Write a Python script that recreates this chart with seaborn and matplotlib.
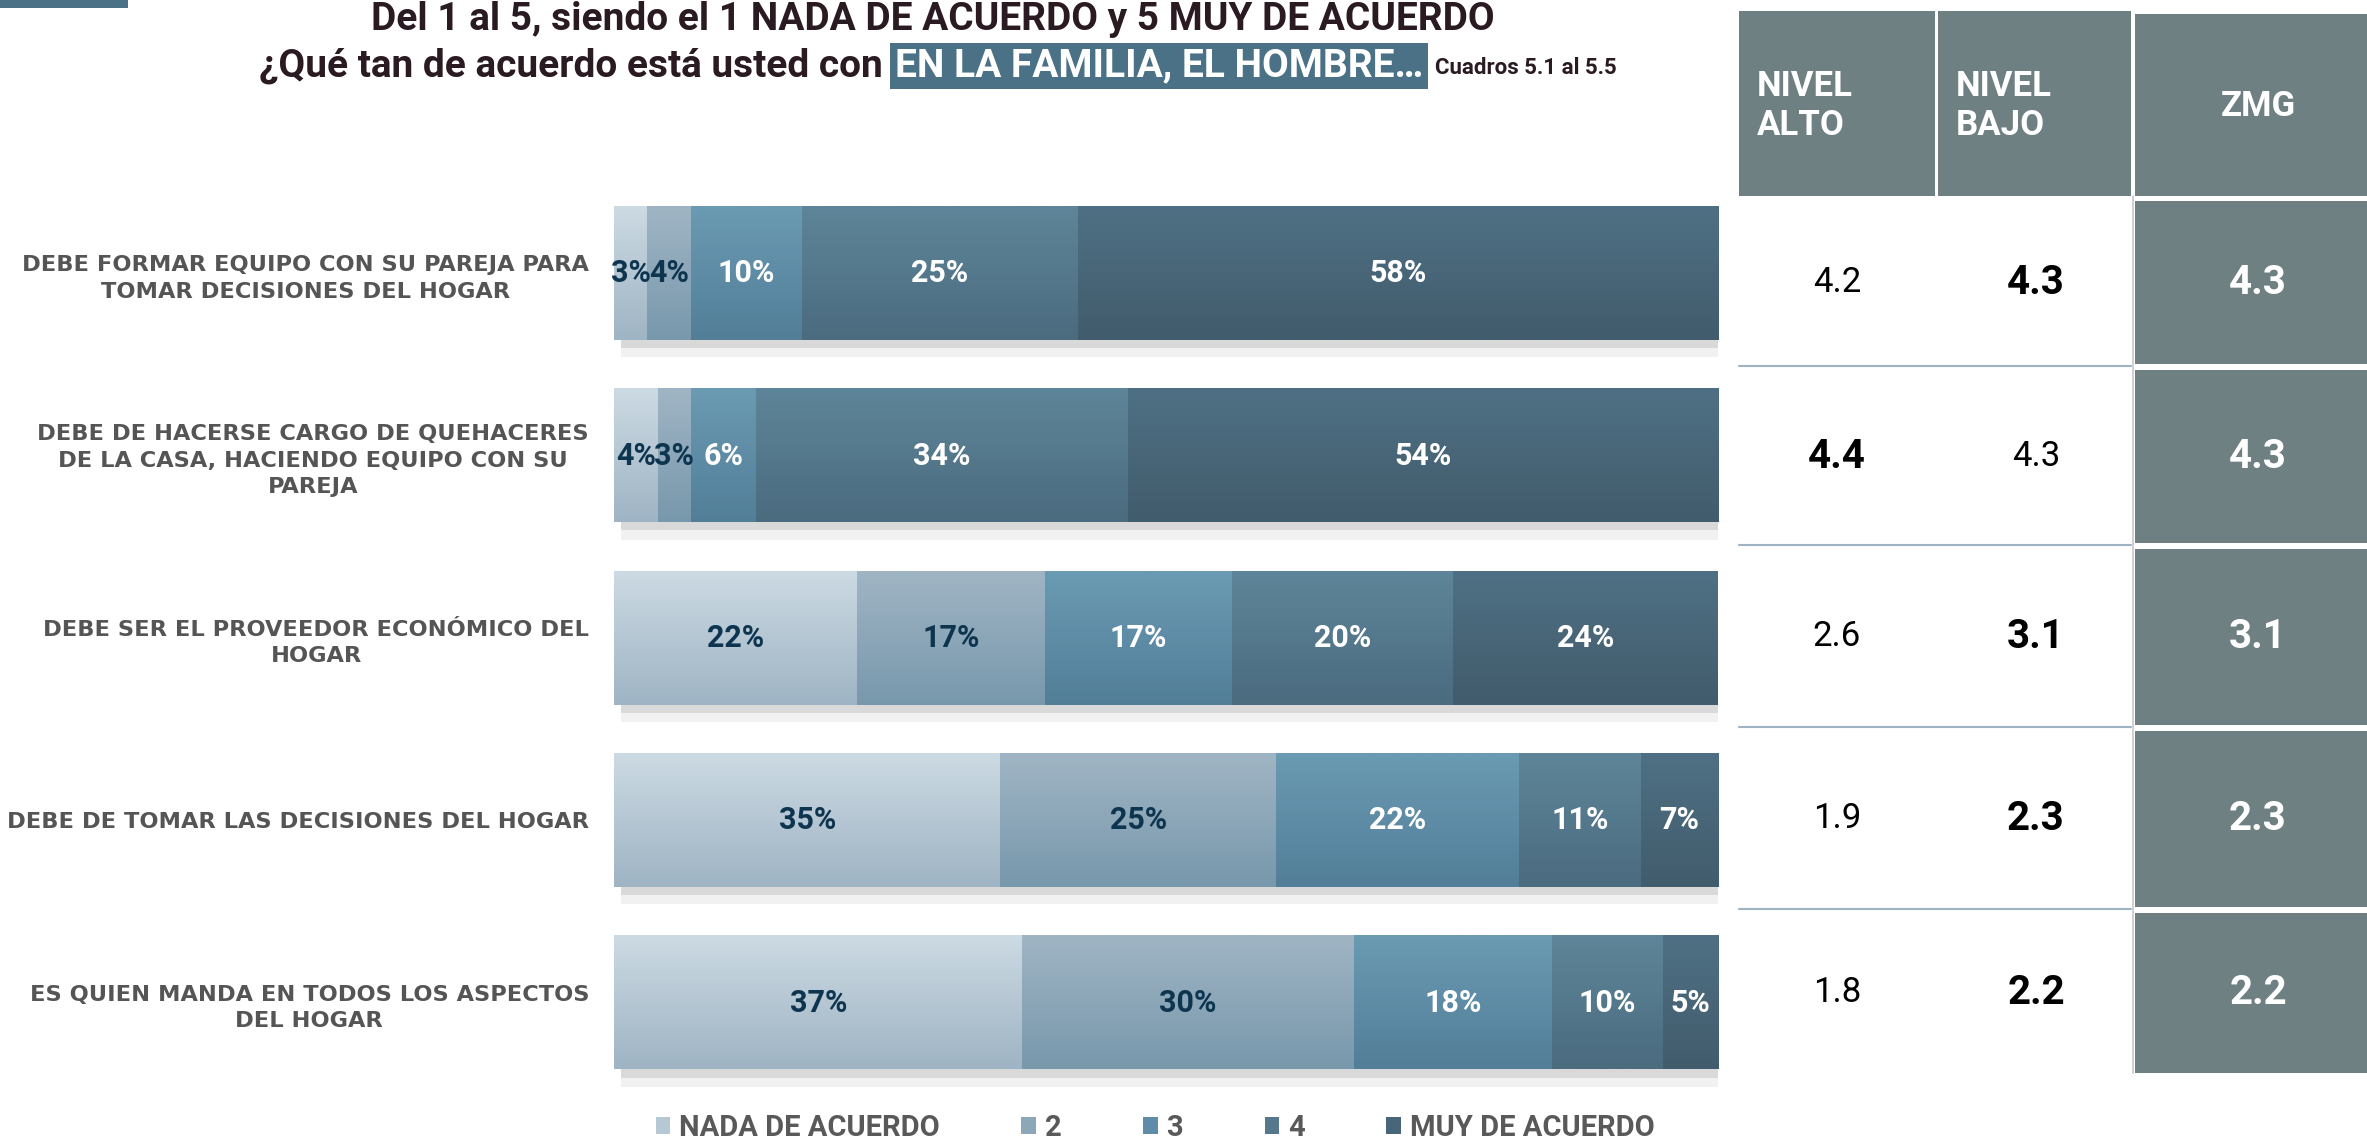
import numpy as np
import pandas as pd
import matplotlib
matplotlib.use('Agg')
import matplotlib.pyplot as plt
import matplotlib.colors as mcolors
from matplotlib.patches import Rectangle
from matplotlib.lines import Line2D
import seaborn as sns

# datos
items = [
    'DEBE FORMAR EQUIPO CON SU PAREJA PARA\nTOMAR DECISIONES DEL HOGAR',
    'DEBE DE HACERSE CARGO DE QUEHACERES\nDE LA CASA, HACIENDO EQUIPO CON SU\nPAREJA',
    'DEBE SER EL PROVEEDOR ECONÓMICO DEL\nHOGAR',
    'DEBE DE TOMAR LAS DECISIONES DEL HOGAR',
    'ES QUIEN MANDA EN TODOS LOS ASPECTOS\nDEL HOGAR',
]
levels = ['NADA DE ACUERDO', '2', '3', '4', 'MUY DE ACUERDO']
nada = [3, 4, 22, 35, 37]
dos = [4, 3, 17, 25, 30]
tres = [10, 6, 17, 22, 18]
cuatro = [25, 34, 20, 11, 10]
muy = [58, 54, 24, 7, 5]

nivel_alto = [4.2, 4.4, 2.6, 1.9, 1.8]
nivel_bajo = [4.3, 4.3, 3.1, 2.3, 2.2]
zmg = [4.3, 4.3, 3.1, 2.3, 2.2]

# colores (arriba, abajo) para el degradado de cada nivel
grad_colors = [('#CCDAE3', '#9FB4C4'), ('#A0B5C4', '#7898AC'), ('#6B9AB3', '#527E98'),
               ('#5E8599', '#4B6B7F'), ('#4F7084', '#415C6C')]
base_colors = ['#B5C8D4', '#8CA7B8', '#5F8CA6', '#55788C', '#486678']
text_colors = ['#0E3550', '#0E3550', 'white', 'white', 'white']

W, H = 2367, 1142
NARROW = ['Roboto', 'DejaVu Sans']

df = pd.DataFrame({'item': items, 'NADA DE ACUERDO': nada, '2': dos, '3': tres,
                   '4': cuatro, 'MUY DE ACUERDO': muy})
long = df.melt(id_vars='item', var_name='nivel', value_name='pct')
long['total'] = long.groupby('item')['pct'].transform('sum')
long['share'] = long['pct'] / long['total'] * 100
long['nivel'] = pd.Categorical(long['nivel'], levels, ordered=True)
long['item'] = pd.Categorical(long['item'], items, ordered=True)
long = long.sort_values(['item', 'nivel'])
long['left'] = long.groupby('item', observed=True)['share'].cumsum() - long['share']

sns.set_style('white')
plt.rcParams['font.family'] = NARROW

fig = plt.figure(figsize=(W / 100, H / 100), dpi=100)
ov = fig.add_axes([0, 0, 1, 1])
ov.set_xlim(0, W)
ov.set_ylim(H, 0)
ov.axis('off')

ax = fig.add_axes([614 / W, 1 - 1094 / H, 1104 / W, 912 / H])

for i, lev in enumerate(levels):
    sub = long[long['nivel'] == lev]
    sns.barplot(data=sub, x='share', y='item', order=items, color=base_colors[i],
                left=sub['left'].values, width=0.73, saturation=1, errorbar=None,
                linewidth=0, label=lev, ax=ax)

ax.set_xlim(0, 100)
ax.set_ylim(4.5, -0.5)

# degradado y etiquetas
for i, cont in enumerate(ax.containers):
    top, bot = mcolors.to_rgb(grad_colors[i][0]), mcolors.to_rgb(grad_colors[i][1])
    grad = np.linspace(top, bot, 64).reshape(64, 1, 3)
    sub = long[long['nivel'] == levels[i]]
    for rect, val in zip(cont.patches, sub['pct']):
        x, y, w, h = rect.get_x(), rect.get_y(), rect.get_width(), rect.get_height()
        ax.imshow(grad, extent=(x, x + w, y + h, y), origin='upper', aspect='auto',
                  interpolation='bilinear', zorder=2)
        ax.text(x + w / 2, y + h / 2, f'{val:.0f}%', ha='center', va='center',
                color=text_colors[i], fontsize=22, fontweight='bold', zorder=4)

# sombra bajo cada barra
for rect in ax.containers[0].patches:
    y, h = rect.get_y(), rect.get_height()
    ax.add_patch(Rectangle((0.6, y + h), 99.4, 0.045, fc='#D9D9D9', ec='none', zorder=1))
    ax.add_patch(Rectangle((0.6, y + h + 0.045), 99.4, 0.05, fc='#F1F1F1', ec='none', zorder=1))

ax.set_xlim(0, 100)
ax.set_ylim(4.5, -0.5)
ax.set_xlabel('')
ax.set_ylabel('')
ax.set_xticks([])
ax.tick_params(axis='y', length=0, pad=18)
for lbl in ax.get_yticklabels():
    lbl.set_family('DejaVu Sans')
    lbl.set_fontweight('bold')
    lbl.set_fontsize(16.2)
    lbl.set_color('#555555')
    lbl.set_multialignment('center')
    lbl.set_linespacing(1.4)
sns.despine(ax=ax, left=True, bottom=True)

# leyenda
handles = [Rectangle((0, 0), 1, 1, fc=c, ec='none') for c in base_colors]
leg = ax.legend(handles, levels, loc='center', bbox_to_anchor=(1155 / W, 1 - 1128 / H),
                bbox_transform=fig.transFigure, ncol=5, frameon=False,
                handlelength=0.5, handleheight=0.5, handletextpad=0.3, columnspacing=2.8,
                prop={'family': NARROW, 'weight': 'bold', 'size': 21}, labelcolor='#595959')

# barra decorativa
ov.add_patch(Rectangle((0, 0), 128, 8, fc='#4A7186', ec='none'))

# titulo
title_kw = dict(color='#2A1A22', fontweight='bold', fontsize=28, va='center')
ov.text(933, 20, 'Del 1 al 5, siendo el 1 NADA DE ACUERDO y 5 MUY DE ACUERDO', ha='center', **title_kw)
t1 = ov.text(0, 66, '¿Qué tan de acuerdo está usted con', ha='left', **title_kw)
t2 = ov.text(0, 66, 'EN LA FAMILIA, EL HOMBRE…', ha='left', color='white', fontweight='bold',
             fontsize=28, va='center',
             bbox=dict(boxstyle='square,pad=0.12', fc='#4A7186', ec='none'))
t3 = ov.text(0, 68, 'Cuadros 5.1 al 5.5', ha='left', va='center', color='#2A1A22',
             fontweight='bold', fontsize=16)
fig.canvas.draw()
r = fig.canvas.get_renderer()
w1 = t1.get_window_extent(r).width
w2 = t2.get_window_extent(r).width
w3 = t3.get_window_extent(r).width
gap = 12
total = w1 + gap + w2 + gap + w3
x0 = 938 - total / 2
t1.set_x(x0)
t2.set_x(x0 + w1 + gap)
t3.set_x(x0 + w1 + gap + w2 + gap)

# tabla de la derecha
head = '#6F8083'
ov.add_patch(Rectangle((1739, 11), 196, 185, fc=head, ec='none'))
ov.add_patch(Rectangle((1938, 11), 193, 185, fc=head, ec='none'))
ov.add_patch(Rectangle((2135, 14), 232, 182, fc=head, ec='none'))
hkw = dict(color='white', fontweight='bold', fontsize=25, va='center', linespacing=1.2)
ov.text(1757, 106, 'NIVEL\nALTO', ha='left', **hkw)
ov.text(1956, 106, 'NIVEL\nBAJO', ha='left', **hkw)
ov.text(2258, 106, 'ZMG', ha='center', **hkw)

row_edges = [(201, 364), (370, 543), (549, 725), (731, 907), (913, 1073)]
for k, (y0, y1) in enumerate(row_edges):
    ov.add_patch(Rectangle((2135, y0), 232, y1 - y0, fc=head, ec='none'))
    yc = (y0 + y1) / 2
    a, b = nivel_alto[k], nivel_bajo[k]
    for xc, v, other in [(1837, a, b), (2036, b, a)]:
        if v >= other:
            ov.text(xc, yc, f'{v:.1f}', ha='center', va='center', fontsize=29,
                    fontweight='bold', color='black')
        else:
            ov.text(xc, yc, f'{v:.1f}', ha='center', va='center', fontsize=25,
                    fontweight='normal', color='black')
    ov.text(2258, yc, f'{zmg[k]:.1f}', ha='center', va='center', fontsize=29,
            fontweight='bold', color='white')
    if k < len(row_edges) - 1:
        ov.add_line(Line2D([1739, 2131], [y1 + 2, y1 + 2], color='#9DB3C2', lw=1.5))
ov.add_line(Line2D([2133, 2133], [196, 1073], color='#C8C8C8', lw=1.2))

fig.savefig('out.png', dpi=100)
